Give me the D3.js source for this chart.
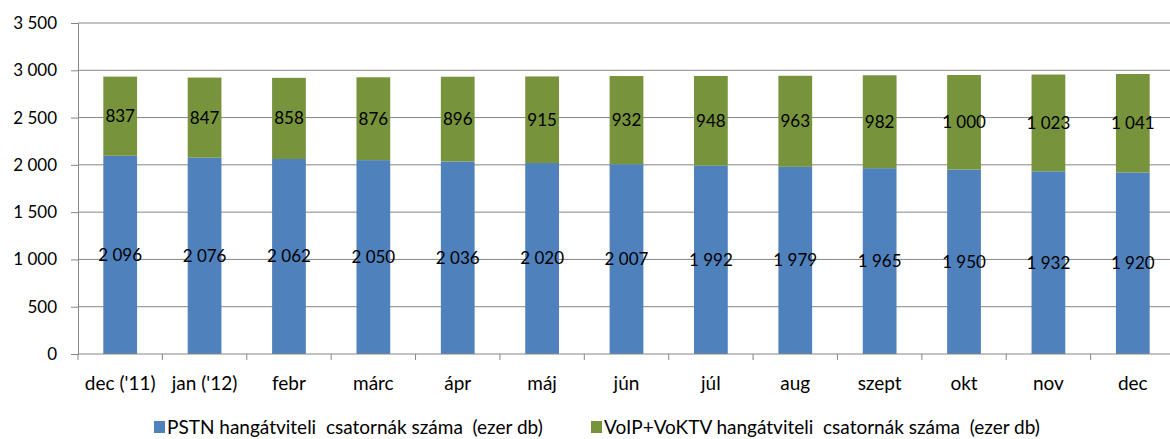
<!DOCTYPE html>
<html>
<head>
<meta charset="utf-8">
<script src="https://cdn.jsdelivr.net/npm/d3@7"></script>
<style>
  body { margin: 0; background: #fff; }
  text { font-family: Lato, "Open Sans", sans-serif; fill: #000; }
</style>
</head>
<body>
<svg id="chart" width="1170" height="439"></svg>
<script>
"use strict";

var months = ["dec ('11)", "jan ('12)", "febr", "márc", "ápr", "máj", "jún", "júl", "aug", "szept", "okt", "nov", "dec"];
var pstn = [2096, 2076, 2062, 2050, 2036, 2020, 2007, 1992, 1979, 1965, 1950, 1932, 1920];
var voip = [837, 847, 858, 876, 896, 915, 932, 948, 963, 982, 1000, 1023, 1041];
var yTicks = [0, 500, 1000, 1500, 2000, 2500, 3000, 3500];
var seriesNames = ["PSTN hangátviteli  csatornák száma  (ezer db)", "VoIP+VoKTV hangátviteli  csatornák száma  (ezer db)"];

var svg = d3.select("#chart");
var plotLeft = 78, plotRight = 1175, plotTop = 23, plotBottom = 354;

var fmt = d3.formatLocale({ decimal: ",", thousands: "\u00a0", grouping: [3], currency: ["", ""] }).format(",d");

var x = d3.scaleBand().domain(months).range([plotLeft, plotRight]).paddingInner(0.6).paddingOuter(0.3);
var y = d3.scaleLinear().domain([0, 3500]).range([plotBottom, plotTop]);

// grid
svg.append("g").selectAll("line").data(yTicks.slice(1)).join("line")
    .attr("x1", plotLeft).attr("x2", plotRight)
    .attr("y1", function (d) { return y(d); }).attr("y2", function (d) { return y(d); })
    .attr("stroke", "#868686").attr("stroke-width", 1);

var rows = months.map(function (m, i) { return { m: m, a: pstn[i], b: voip[i] }; });

var bars = svg.append("g");
bars.selectAll("rect.a").data(rows).join("rect").attr("class", "a")
    .attr("x", function (d) { return x(d.m); }).attr("width", x.bandwidth())
    .attr("y", function (d) { return y(d.a); })
    .attr("height", function (d) { return y(0) - y(d.a); })
    .attr("fill", "#4f81bd");
bars.selectAll("rect.b").data(rows).join("rect").attr("class", "b")
    .attr("x", function (d) { return x(d.m); }).attr("width", x.bandwidth())
    .attr("y", function (d) { return y(d.a + d.b); })
    .attr("height", function (d) { return y(d.a) - y(d.a + d.b); })
    .attr("fill", "#77933c");

// data labels
var labels = svg.append("g").attr("font-size", 17).attr("text-anchor", "middle");
labels.selectAll("text.a").data(rows).join("text").attr("class", "a")
    .attr("x", function (d) { return x(d.m) + x.bandwidth() / 2; })
    .attr("y", function (d) { return y(d.a / 2) + 6; })
    .text(function (d) { return fmt(d.a); });
labels.selectAll("text.b").data(rows).join("text").attr("class", "b")
    .attr("x", function (d) { return x(d.m) + x.bandwidth() / 2; })
    .attr("y", function (d) { return y(d.a + d.b / 2) + 6; })
    .text(function (d) { return fmt(d.b); });

// y axis
var yAxis = d3.axisLeft(y).tickValues(yTicks).tickSize(7).tickPadding(14).tickFormat(fmt);
var gY = svg.append("g").attr("transform", "translate(" + plotLeft + ",0)").call(yAxis);
gY.select(".domain").attr("stroke", "#868686");
gY.selectAll(".tick line").attr("stroke", "#868686");
gY.selectAll(".tick text").attr("font-size", 17).attr("font-family", "Lato, sans-serif").attr("fill", "#000");

// x axis
var gX = svg.append("g").attr("transform", "translate(0," + plotBottom + ")");
gX.append("line").attr("x1", plotLeft).attr("x2", plotRight).attr("stroke", "#868686");
var step = x.step();
gX.selectAll("line.t").data(months).join("line").attr("class", "t")
    .attr("x1", function (d) { return x(d) - x.paddingOuter() * step; })
    .attr("x2", function (d) { return x(d) - x.paddingOuter() * step; })
    .attr("y1", 0).attr("y2", 6).attr("stroke", "#868686");
gX.selectAll("text").data(months).join("text")
    .attr("x", function (d) { return x(d) + x.bandwidth() / 2; })
    .attr("y", 36).attr("text-anchor", "middle").attr("font-size", 19)
    .text(function (d) { return d; });

// legend
var legendColors = ["#4f81bd", "#77933c"];
var legendX = [154, 591];
var lg = svg.append("g");
seriesNames.forEach(function (name, i) {
    var g = lg.append("g").attr("transform", "translate(" + legendX[i] + ",421)");
    g.append("rect").attr("width", 11).attr("height", 12).attr("fill", legendColors[i]);
    g.append("text").attr("x", 13).attr("y", 13).attr("font-size", 19)
        .style("white-space", "pre").text(name);
});
</script>
</body>
</html>
